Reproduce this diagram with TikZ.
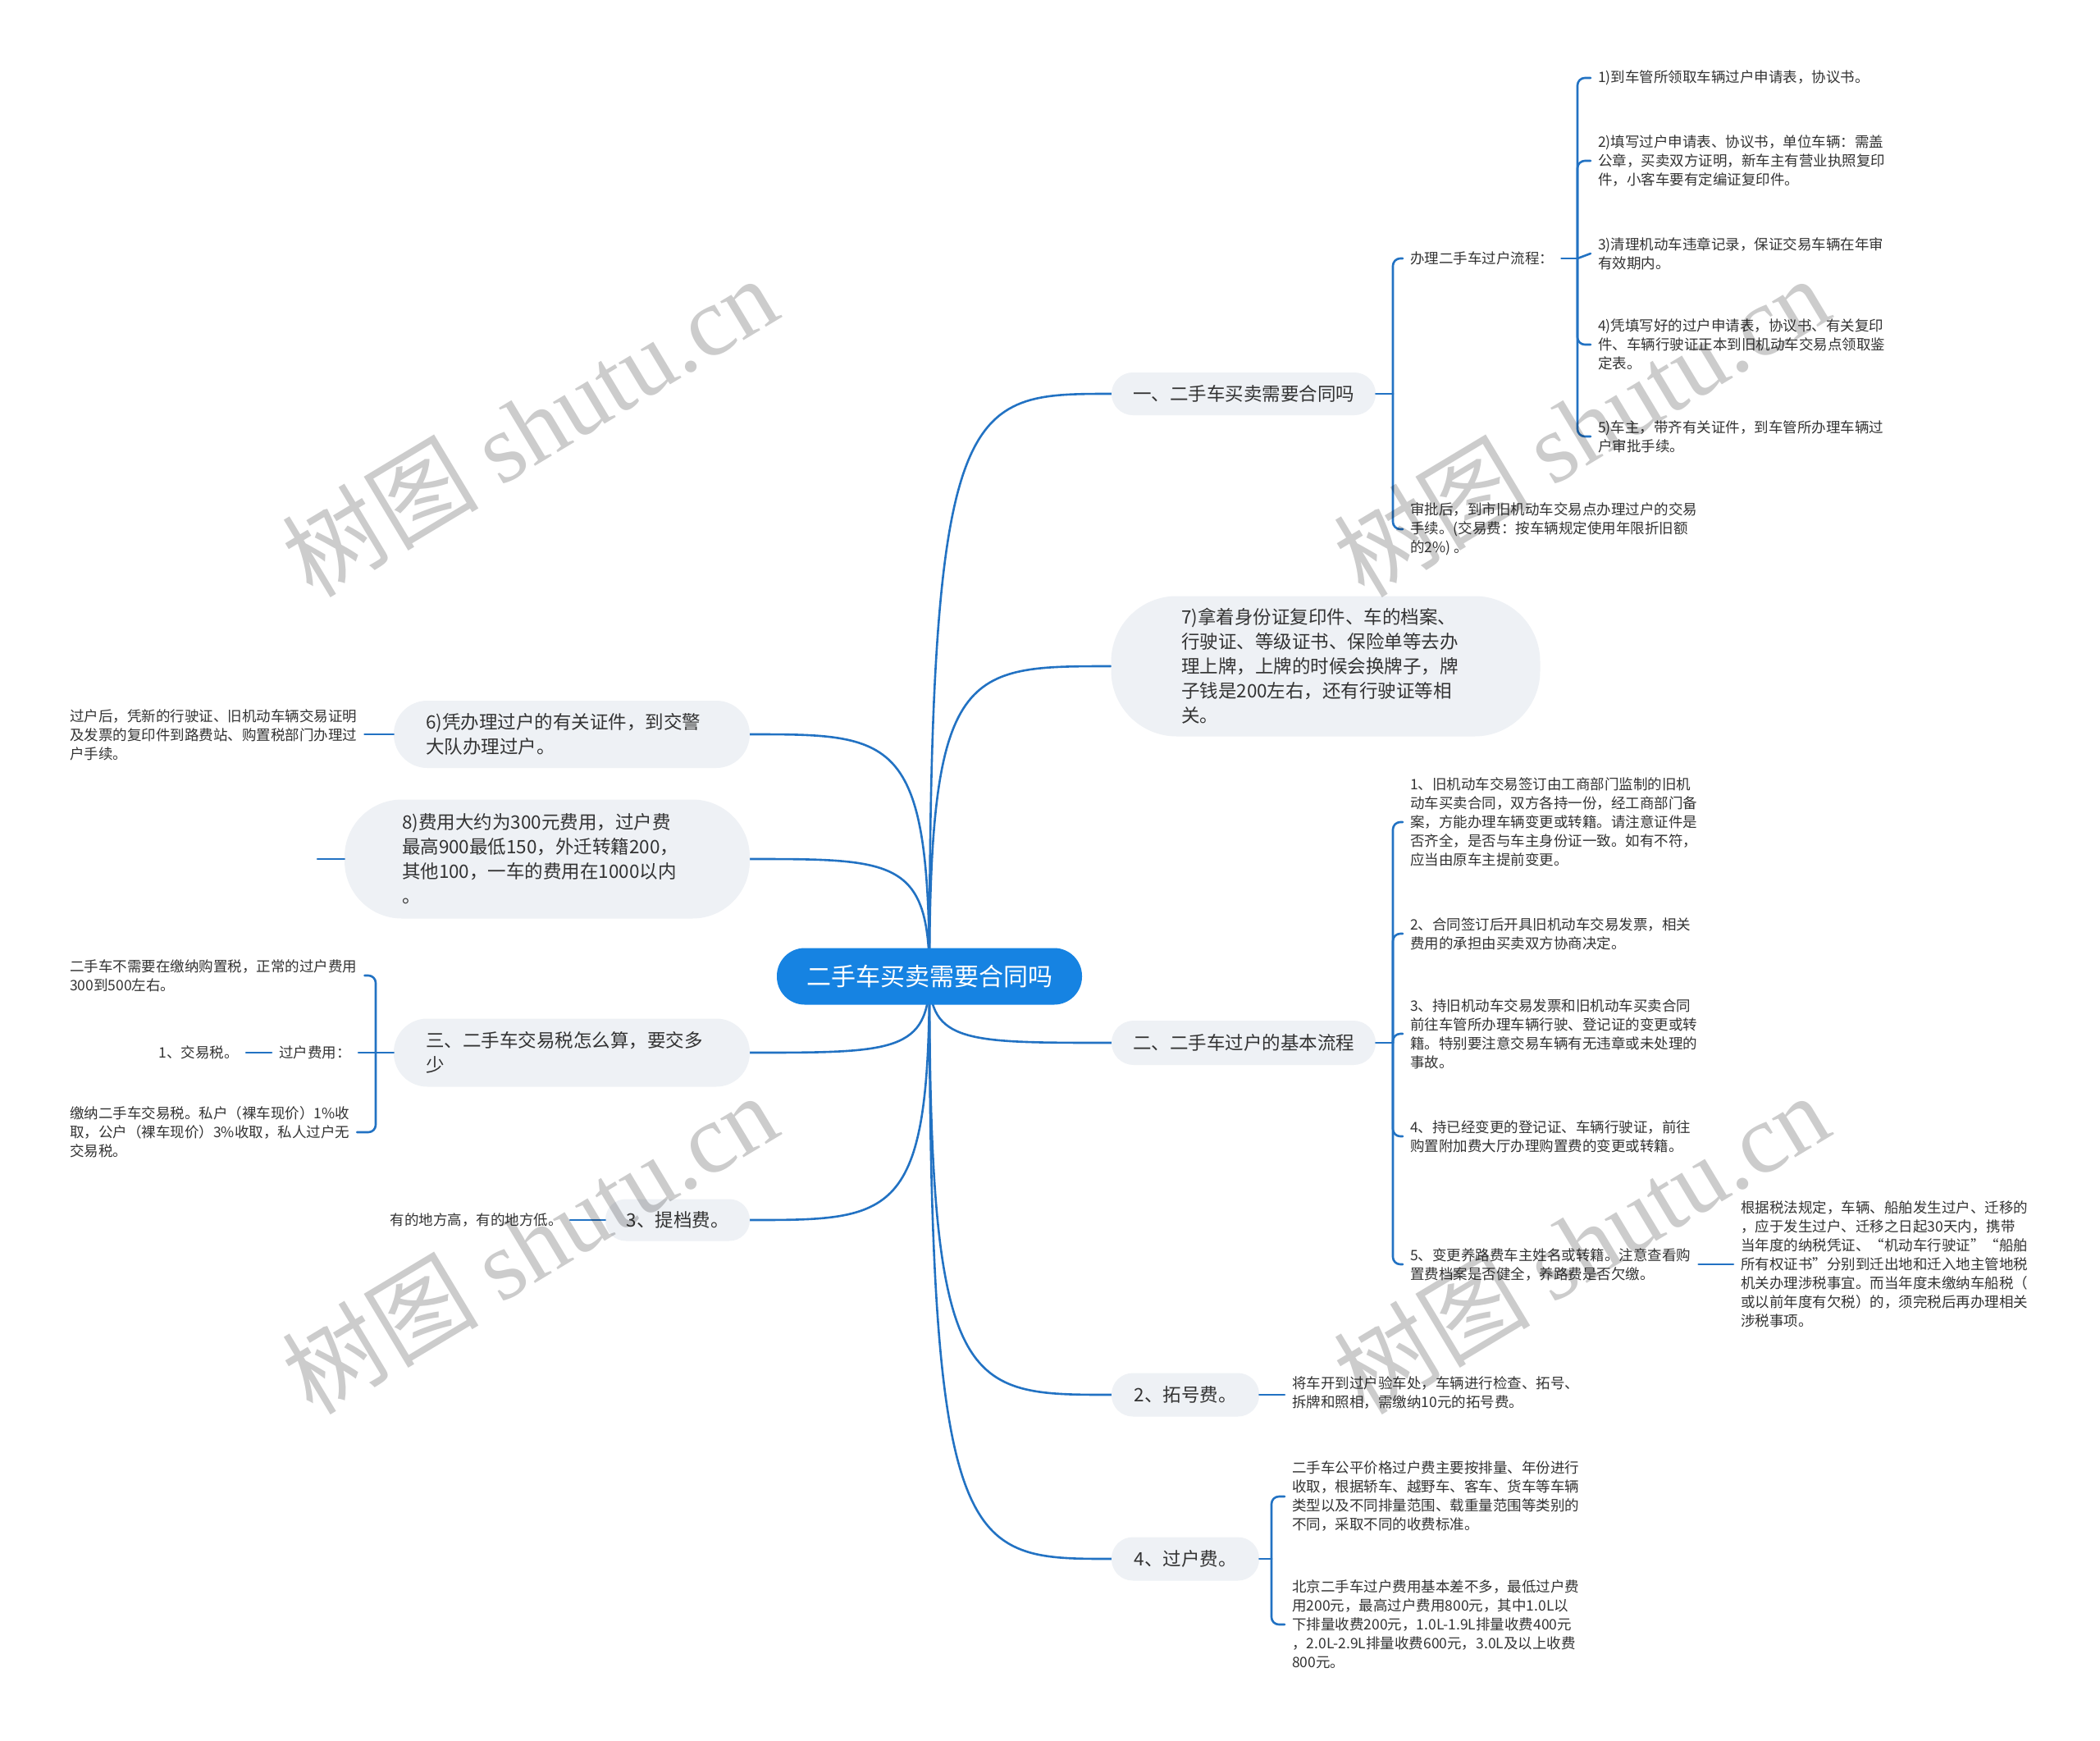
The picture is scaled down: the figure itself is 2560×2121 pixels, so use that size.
\documentclass[tikz,border=0pt]{standalone}
\usepackage{fontspec}
\setmainfont{Noto Sans CJK SC}
\newfontfamily\wmserif{Liberation Serif}
\usetikzlibrary{calc}
\definecolor{rootblue}{HTML}{1683E2}
\definecolor{linkblue}{HTML}{2272C3}
\definecolor{pillgray}{HTML}{EEF1F5}
\definecolor{txt}{HTML}{333333}
\pgfdeclarelayer{bg}
\pgfsetlayers{bg,main}
\tikzset{
  rootnode/.style={fill=rootblue, text=white, rounded corners=34, minimum width=372, minimum height=69, inner sep=0, font=\fontsize{30}{36}\selectfont},
  pill/.style={fill=pillgray, text=txt, inner sep=0, font=\fontsize{22.5}{30}\selectfont, align=left},
  leaf/.style={text=txt, inner xsep=9, inner ysep=2, font=\fontsize{17.5}{23}\selectfont, align=left},
  conn/.style={draw=linkblue, line width=2.6, line cap=round},
  brk/.style={conn, rounded corners=9},
  wm/.style={text=black, opacity=0.2, rotate=31, font=\fontsize{120}{120}\selectfont, inner sep=0}
}
\begin{document}
\begin{tikzpicture}[x=1pt,y=-1pt]
\useasboundingbox (0,0) rectangle (2560,2121);
\begin{pgfonlayer}{bg}
\fill[white] (0,0) rectangle (2560,2121);
\end{pgfonlayer}

% root
\node[rootnode] (root) at (1133,1190) {二手车买卖需要合同吗};

% right main nodes
\node[pill, minimum width=322, minimum height=52, rounded corners=26] (r1) at (1516,480) {一、二手车买卖需要合同吗};
\node[pill, minimum width=523, minimum height=171, rounded corners=80, text width=352] (r2) at (1616,812) {7)拿着身份证复印件、车的档案、\\行驶证、等级证书、保险单等去办\\理上牌，上牌的时候会换牌子，牌\\子钱是200左右，还有行驶证等相\\关。};
\node[pill, minimum width=322, minimum height=54, rounded corners=27] (r3) at (1516,1271) {二、二手车过户的基本流程};
\node[pill, minimum width=180, minimum height=53, rounded corners=26] (r4) at (1445,1700) {2、拓号费。};
\node[pill, minimum width=180, minimum height=53, rounded corners=26] (r5) at (1445,1900) {4、过户费。};

% left main nodes
\node[pill, minimum width=434, minimum height=82, rounded corners=41, text width=356] (l1) at (697,895) {6)凭办理过户的有关证件，到交警\\大队办理过户。};
\node[pill, minimum width=494, minimum height=145, rounded corners=70, text width=354] (l2) at (667,1047) {8)费用大约为300元费用，过户费\\最高900最低150，外迁转籍200，\\其他100，一车的费用在1000以内\\。};
\node[pill, minimum width=434, minimum height=83, rounded corners=41, text width=356] (l3) at (697,1283) {三、二手车交易税怎么算，要交多\\少};
\node[pill, minimum width=176, minimum height=51, rounded corners=25] (l4) at (826,1487) {3、提档费。};

% right leaves
\node[leaf, anchor=west] (a) at (1710,315) {办理二手车过户流程：};
\node[leaf, anchor=west] (a1) at (1939,95) {1)到车管所领取车辆过户申请表，协议书。};
\node[leaf, anchor=west] (a2) at (1939,196) {2)填写过户申请表、协议书，单位车辆：需盖\\公章，买卖双方证明，新车主有营业执照复印\\件，小客车要有定编证复印件。};
\node[leaf, anchor=west] (a3) at (1939,309) {3)清理机动车违章记录，保证交易车辆在年审\\有效期内。};
\node[leaf, anchor=west] (a4) at (1939,420) {4)凭填写好的过户申请表，协议书、有关复印\\件、车辆行驶证正本到旧机动车交易点领取鉴\\定表。};
\node[leaf, anchor=west] (a5) at (1939,532) {5)车主，带齐有关证件，到车管所办理车辆过\\户审批手续。};
\node[leaf, anchor=west] (b) at (1710,645) {审批后，到市旧机动车交易点办理过户的交易\\手续。(交易费：按车辆规定使用年限折旧额\\的2\%) 。};

\node[leaf, anchor=west] (c1) at (1710,1002) {1、旧机动车交易签订由工商部门监制的旧机\\动车买卖合同，双方各持一份，经工商部门备\\案，方能办理车辆变更或转籍。请注意证件是\\否齐全，是否与车主身份证一致。如有不符，\\应当由原车主提前变更。};
\node[leaf, anchor=west] (c2) at (1710,1138) {2、合同签订后开具旧机动车交易发票，相关\\费用的承担由买卖双方协商决定。};
\node[leaf, anchor=west] (c3) at (1710,1260) {3、持旧机动车交易发票和旧机动车买卖合同\\前往车管所办理车辆行驶、登记证的变更或转\\籍。特别要注意交易车辆有无违章或未处理的\\事故。};
\node[leaf, anchor=west] (c4) at (1710,1385) {4、持已经变更的登记证、车辆行驶证，前往\\购置附加费大厅办理购置费的变更或转籍。};
\node[leaf, anchor=west] (c5) at (1710,1541) {5、变更养路费车主姓名或转籍。注意查看购\\置费档案是否健全，养路费是否欠缴。};
\node[leaf, anchor=west] (c5a) at (2113,1541) {根据税法规定，车辆、船舶发生过户、迁移的\\，应于发生过户、迁移之日起30天内，携带\\当年度的纳税凭证、“机动车行驶证”“船舶\\所有权证书”分别到迁出地和迁入地主管地税\\机关办理涉税事宜。而当年度未缴纳车船税（\\或以前年度有欠税）的，须完税后再办理相关\\涉税事项。};

\node[leaf, anchor=west] (f) at (1566,1698) {将车开到过户验车处，车辆进行检查、拓号、\\拆牌和照相，需缴纳10元的拓号费。};
\node[leaf, anchor=west] (d1) at (1566,1824) {二手车公平价格过户费主要按排量、年份进行\\收取，根据轿车、越野车、客车、货车等车辆\\类型以及不同排量范围、载重量范围等类别的\\不同，采取不同的收费标准。};
\node[leaf, anchor=west] (d2) at (1566,1980) {北京二手车过户费用基本差不多，最低过户费\\用200元，最高过户费用800元，其中1.0L以\\下排量收费200元，1.0L-1.9L排量收费400元\\，2.0L-2.9L排量收费600元，3.0L及以上收费\\800元。};

% left leaves
\node[leaf, anchor=west] (l1c) at (76,896) {过户后，凭新的行驶证、旧机动车辆交易证明\\及发票的复印件到路费站、购置税部门办理过\\户手续。};
\coordinate (l2c) at (387,1047);
\node[leaf, anchor=west] (e1) at (76,1189) {二手车不需要在缴纳购置税，正常的过户费用\\300到500左右。};
\node[leaf, anchor=east] (e2) at (437,1283) {过户费用：};
\node[leaf, anchor=east] (e2a) at (300,1283) {1、交易税。};
\node[leaf, anchor=west] (e3) at (76,1380) {缴纳二手车交易税。私户（裸车现价）1\%收\\取，公户（裸车现价）3\%收取，私人过户无\\交易税。};
\node[leaf, anchor=east] (g) at (695,1487) {有的地方高，有的地方低。};

% bracket coordinates
\coordinate (k1) at (1698,480);
\coordinate (kA) at (1923,315);
\coordinate (k3) at (1698,1271);
\coordinate (k5) at (1550,1900);
\coordinate (kL) at (458,1283);

\begin{pgfonlayer}{bg}
\foreach \n in {r1,r2,r3,r4,r5}
  \draw[conn] (root.center) .. controls (root.center |- \n.west) and ($(root.center |- \n.west)!0.2!(\n.west)$) .. (\n.west);
\foreach \n in {l1,l2,l3,l4}
  \draw[conn] (root.center) .. controls (root.center |- \n.east) and ($(root.center |- \n.east)!0.2!(\n.east)$) .. (\n.east);
\end{pgfonlayer}

% right brackets
\draw[conn] (r1.east) -- (k1);
\draw[brk] (k1) |- (a.west);
\draw[brk] (k1) |- (b.west);
\draw[conn] (a.east) -- (kA);
\draw[brk] (kA) |- (a1.west);
\draw[brk] (kA) |- (a2.west);
\draw[conn] (kA) -- (a3.west);
\draw[brk] (kA) |- (a4.west);
\draw[brk] (kA) |- (a5.west);

\draw[conn] (r3.east) -- (k3);
\draw[brk] (k3) |- (c1.west);
\draw[brk] (k3) |- (c2.west);
\draw[brk] (k3) |- (c3.west);
\draw[brk] (k3) |- (c4.west);
\draw[brk] (k3) |- (c5.west);
\draw[conn] (c5.east) -- (c5.east -| c5a.west);

\draw[conn] (r4.east) -- (r4.east -| f.west);
\draw[conn] (r5.east) -- (k5);
\draw[brk] (k5) |- (d1.west);
\draw[brk] (k5) |- (d2.west);

% left connections
\draw[conn] (l1.west) -- (l1.west -| l1c.east);
\draw[conn] (l2.west) -- (l2c);
\draw[conn] (l3.west) -- (kL);
\draw[brk] (kL) |- (e1.east);
\draw[conn] (kL) -- (e2.east);
\draw[brk] (kL) |- (e3.east);
\draw[conn] (e2.west) -- (e2a.east);
\draw[conn] (l4.west) -- (g.east);

% watermarks
\node[wm] (w1) at (645,519) {树图 {\wmserif shutu.cn}};
\node[wm] (w2) at (1927,519) {树图 {\wmserif shutu.cn}};
\node[wm] (w3) at (645,1515) {树图 {\wmserif shutu.cn}};
\node[wm] (w4) at (1927,1515) {树图 {\wmserif shutu.cn}};
\end{tikzpicture}
\end{document}
